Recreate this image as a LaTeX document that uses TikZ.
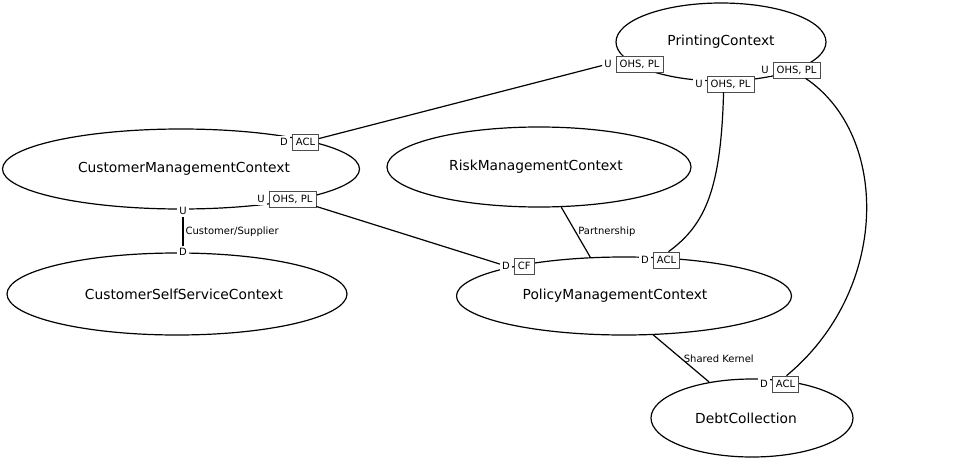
\documentclass[tikz,border=0pt]{standalone}
\usepackage{fontspec}
\setmainfont{DejaVu Sans}
\usetikzlibrary{positioning,shapes.geometric}

\begin{document}
\begin{tikzpicture}[x=1pt, y=-1pt,
% Node styles
 bctx/.style={draw, ellipse, line width=1.2pt, inner sep=0pt,
 font=\fontsize{13.8}{16}\selectfont},
 updown/.style={fill=white, inner sep=2pt, font=\fontsize{10}{12}\selectfont},
 rolebox/.style={draw=black!70, line width=0.7pt, fill=white, inner xsep=3.5pt,
 inner ysep=2pt, minimum height=16pt, font=\fontsize{10}{12}\selectfont},
% Edge styles
 edge/.style={draw, line width=1.2pt},
% Label styles
 elabel/.style={anchor=west, inner sep=2pt, font=\fontsize{10}{12}\selectfont}
]
\useasboundingbox (0,0) rectangle (971,463);

\node[bctx, minimum width=210pt, minimum height=78pt] (pc) at (721,42) {PrintingContext};
\node[bctx, minimum width=357pt, minimum height=80pt] (cmc) at (181,169) {\hspace*{6pt}CustomerManagementContext};
\node[bctx, minimum width=340pt, minimum height=82pt] (css) at (177,294) {\hspace*{14pt}CustomerSelfServiceContext};
\node[bctx, minimum width=304pt, minimum height=80pt] (rmc) at (539,167) {RiskManagementContext\hspace*{6pt}};
\node[bctx, minimum width=335pt, minimum height=78pt] (pmc) at (624,296) {PolicyManagementContext\hspace*{18pt}};
\node[bctx, minimum width=202pt, minimum height=78pt] (dcx) at (752,418) {DebtCollection\hspace*{12pt}};

% PrintingContext labels
\node[updown] (pcU1) at (608,64) {U};
\node[rolebox, right=2pt of pcU1] (pcT1) {OHS, PL};
\node[updown] (pcU2) at (699,84) {U};
\node[rolebox, right=2pt of pcU2] (pcT2) {OHS, PL};
\node[updown] (pcU3) at (765,70) {U};
\node[rolebox, right=2pt of pcU3] (pcT3) {OHS, PL};

% CustomerManagementContext labels
\node[updown] (cmD1) at (284,142) {D};
\node[rolebox, right=2pt of cmD1] (cmT1) {ACL};
\node[updown] (cmU2) at (261,199) {U};
\node[rolebox, right=2pt of cmU2] (cmT2) {OHS, PL};
\node[updown] (cmU3) at (183,211) {U};

% CustomerSelfServiceContext label
\node[updown] (csD1) at (183,252) {D};

% PolicyManagementContext labels
\node[updown] (pmD1) at (506,266) {D};
\node[rolebox, right=2pt of pmD1] (pmT1) {CF};
\node[updown] (pmD2) at (645,260) {D};
\node[rolebox, right=2pt of pmD2] (pmT2) {ACL};

% DebtCollection label
\node[updown] (dcD1) at (764,384) {D};
\node[rolebox, right=2pt of dcD1] (dcT1) {ACL};

\draw[edge] (pcU1) -- (cmT1);
\draw[edge] (cmT2) -- (pmD1);
\draw[edge] (cmU3) -- (csD1) node[elabel, midway] {Customer/Supplier};
\draw[edge] (rmc.-61) -- (pmc.131) node[elabel, midway] {Partnership};
\draw[edge] (pmc.-53) -- (dcx.140) node[elabel, midway] {Shared Kernel};

\draw[edge] ([xshift=-7pt]pcT2.south) .. controls (721,190) and (705,225) .. ([xshift=2pt]pmT2.north);
\draw[edge] ([xshift=9pt]pcT3.south) .. controls (890,135) and (890,290) .. ([xshift=1pt]dcT1.north);

\end{tikzpicture}
\end{document}
